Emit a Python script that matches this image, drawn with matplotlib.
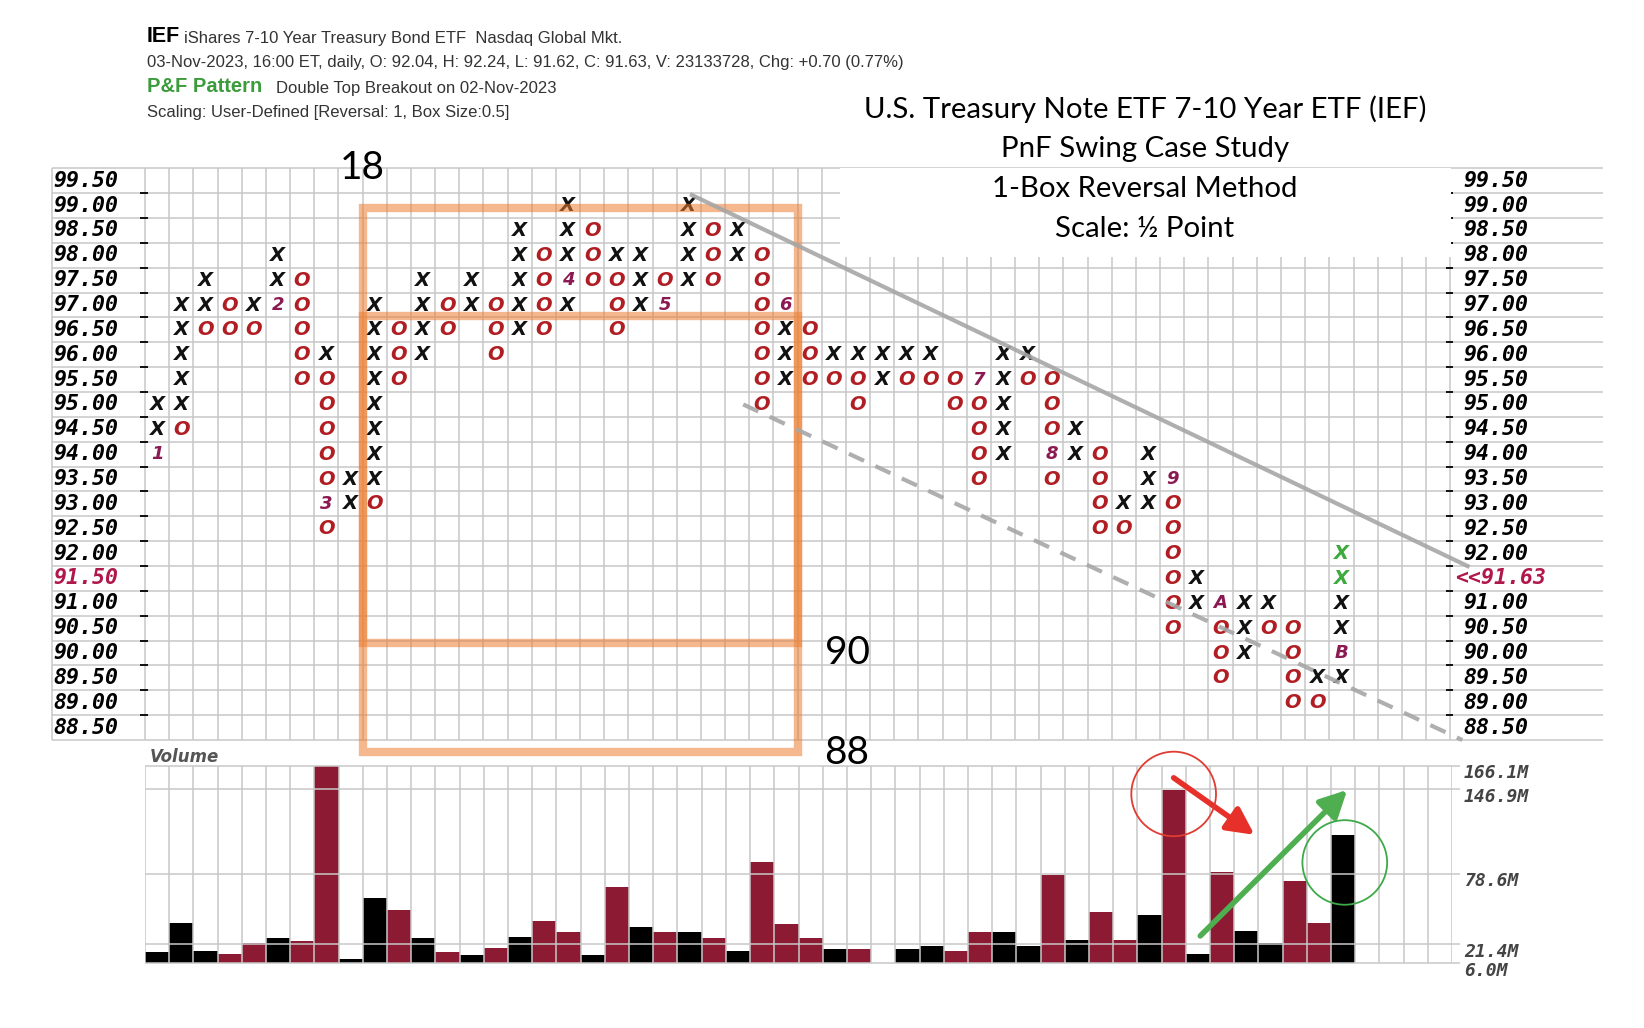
import numpy as np
import matplotlib
matplotlib.use("Agg")
import matplotlib.pyplot as plt
from matplotlib.patches import Rectangle, Ellipse

# point & figure columns (box 0.5, 1-box reversal), boxes listed bottom -> top
# X / O = boxes, g = green X (current), 1-9, A, B = month markers
col_start = [94.0, 94.5, 96.5, 96.5, 96.5, 97.0, 95.5, 92.5, 93.0, 93.0,
             95.5, 96.0, 96.5, 97.0, 96.0, 96.5, 96.5, 97.0, 97.5, 96.5,
             97.0, 97.0, 97.5, 97.5, 98.0, 95.0, 95.5, 95.5, 95.5, 95.0,
             95.5, 95.5, 95.5, 95.0, 93.5, 94.0, 95.5, 93.5, 94.0, 92.5,
             92.5, 93.0, 90.5, 91.0, 89.5, 90.0, 90.5, 89.0, 89.0, 89.5]
col_boxes = ["1XX", "OXXXXX", "OXX", "OO", "OX", "2XX", "OOOOO", "O3OOOOOX", "XX", "OXXXXXXXX",
             "OOO", "XXXX", "OO", "XX", "OOO", "XXXXX", "OOOO", "X4XXX", "OOO", "OOOX",
             "XXX", "5O", "XXXX", "OOO", "XX", "OOOOOOO", "XXX6", "OOO", "OX", "OOX",
             "XX", "OX", "OX", "OO", "OOOO7", "XXXXX", "OX", "O8OOO", "XX", "OOOO",
             "OX", "XXX", "OOOOOO9", "XX", "OOOA", "XXX", "OX", "OOOO", "OX", "XBXXgg"]
n_cols = 54
price_rows = np.arange(88.5, 99.51, 0.5)
last_price = 91.63

# volume per column (millions), k = up column (black), r = down column (maroon)
volume_m = [14.9, 38.8, 16.2, 13.5, 22.7, 26.2, 23.8, 166.1, 9.8, 58.7,
            48.8, 26.2, 14.9, 12.5, 18.6, 27.5, 40.2, 31.3, 12.5, 67.6,
            35.1, 31.3, 31.3, 26.2, 16.2, 87.8, 37.8, 26.2, 17.3, 17.3,
            0.0, 17.3, 20.0, 16.2, 31.3, 31.3, 20.0, 77.9, 24.8, 47.4,
            24.8, 45.0, 146.7, 13.5, 80.0, 32.4, 22.7, 72.5, 38.8, 110.1]
volume_side = "kkkrrkrrkkrkrkrkrrkrkrkrkrrrkrkkkrrkkrkrrkrkrkkrrk"
volume_ticks = [6.0, 21.4, 78.6, 146.9, 166.1]

GRID = "#c8c8c8"
OCOL = "#b01e23"
MCOL = "#8b1a52"
XCOL = "#111111"
GCOL = "#3daa3d"
RED = "#b0174b"

W, H = 1644, 1028
fig = plt.figure(figsize=(W / 100, H / 100), dpi=100)


def box(l, t, r, b):
    return [l / W, 1 - b / H, (r - l) / W, (b - t) / H]


CW = 24.17
GX0 = 145


def cx(px):
    return (px - GX0) / CW - 0.5


# ---------------- P&F panel ----------------
ax = fig.add_axes(box(52, 168.3, 1603, 740))
xl, xr = cx(52), cx(1603)
ax.set_xlim(xl, xr)
ax.set_ylim(88.25, 99.75)
ax.axis("off")

edges_y = np.arange(88.25, 99.76, 0.5)
ax.hlines(edges_y, xl, xr, color=GRID, lw=1.1, zorder=1, clip_on=False)
ax.vlines(np.arange(-0.5, n_cols, 1.0), 88.25, 99.75, color=GRID, lw=1.1, zorder=1)
ax.vlines(xl, 88.25, 99.75, color=GRID, lw=1.1, zorder=1, clip_on=False)
ax.hlines(edges_y[1:-1], cx(140), cx(148), color="black", lw=1.3, zorder=1)
ax.hlines(edges_y[1:-1], cx(1446), cx(1453), color="black", lw=1.3, zorder=1)
# blank area behind the title
ax.add_patch(Rectangle((cx(840), 97.97), cx(1451) - cx(840), 2.0,
                       fc="white", ec="none", zorder=2))

for i, (start, boxes) in enumerate(zip(col_start, col_boxes)):
    for j, ch in enumerate(boxes):
        p = start + 0.5 * j
        if ch == "X":
            ax.text(i, p, "X", color=XCOL, fontsize=14, ha="center", va="center",
                    weight="bold", style="italic", zorder=4)
        elif ch == "g":
            ax.text(i, p, "X", color=GCOL, fontsize=14, ha="center", va="center",
                    weight="bold", style="italic", zorder=4)
        elif ch == "O":
            ax.text(i, p, "O", color=OCOL, fontsize=14, ha="center", va="center",
                    weight="bold", style="italic", zorder=4)
        else:
            ax.text(i, p, ch, color=MCOL, fontsize=13, ha="center", va="center",
                    weight="bold", style="italic", zorder=4)

for p in price_rows:
    col = RED if abs(p - 91.5) < 1e-6 else "black"
    ax.text(cx(53), p, f"{p:.2f}", ha="left", va="center", family="DejaVu Sans Mono",
            weight="bold", style="italic", fontsize=15.5, color=col, zorder=3)
    if abs(p - 91.5) < 1e-6:
        ax.text(cx(1455), p, f"<<{last_price:.2f}", ha="left", va="center",
                family="DejaVu Sans Mono", weight="bold", style="italic",
                fontsize=15.5, color=RED, zorder=3, clip_on=False)
    else:
        ax.text(cx(1463), p, f"{p:.2f}", ha="left", va="center", family="DejaVu Sans Mono",
                weight="bold", style="italic", fontsize=15.5, color="black", zorder=3)

# orange boxes
ax.add_patch(Rectangle((8.5, 88.0), 18.0, 98.95 - 88.0, fill=False, ec="#ed7d31",
                       lw=6, alpha=0.55, zorder=5, clip_on=False))
ax.add_patch(Rectangle((8.5, 90.2), 18.0, 96.77 - 90.2, fill=False, ec="#ed7d31",
                       lw=6, alpha=0.55, zorder=5, clip_on=False))

# trend lines
ax.plot([22.05, 54.3], [99.23, 91.73], color="#a6a6a6", lw=3, alpha=0.9,
        solid_capstyle="butt", zorder=6, clip_on=False)
ax.plot([24.25, 54.0], [95.0, 88.25], color="#a6a6a6", lw=3, alpha=0.9,
        dashes=(4, 3), zorder=6, clip_on=False)

# ---------------- volume panel ----------------
vax = fig.add_axes(box(145, 765.7, 1452, 963.3))
vax.set_xlim(-0.5, n_cols - 0.5)
vax.set_ylim(6.0, 166.1)
vax.axis("off")
vcols = ["black" if s == "k" else "#8c1a32" for s in volume_side]
vax.bar(np.arange(len(volume_m)), volume_m, width=1.0, color=vcols, zorder=1)
vax.vlines(np.arange(-0.5, n_cols, 1.0), 6.0, 166.1, color=GRID, lw=1.1, zorder=2)
vax.hlines(volume_ticks, -0.5, n_cols - 0.5 + 0.35, color=GRID, lw=1.1, zorder=2,
           clip_on=False)
for v in volume_ticks:
    vax.text(n_cols - 0.5 + 0.5, v + 1.0, f"{v:.1f}M", ha="left", va="top",
             family="DejaVu Sans Mono", weight="bold", style="italic",
             fontsize=13, color="#444444", clip_on=False)

vax.add_patch(Ellipse((42.0, 143.2), 3.5, 68.5, fill=False, ec="#e03c31", lw=1.3,
                      zorder=5, clip_on=False))
vax.add_patch(Ellipse((49.07, 87.7), 3.5, 68.5, fill=False, ec="#3daa4a", lw=1.3,
                      zorder=5, clip_on=False))
vax.annotate("", xy=(45.34, 110.1), xytext=(42.0, 156.3), annotation_clip=False,
             arrowprops=dict(arrowstyle="-|>,head_length=0.65,head_width=0.33",
                             color="#e8302a", lw=4, mutation_scale=25,
                             shrinkA=0, shrinkB=0))
vax.annotate("", xy=(49.17, 146.5), xytext=(43.1, 28.2), annotation_clip=False,
             arrowprops=dict(arrowstyle="-|>,head_length=0.65,head_width=0.33",
                             color="#4eae50", lw=4, mutation_scale=25,
                             shrinkA=0, shrinkB=0))

fig.text(150 / W, 1 - 757 / H, "Volume", ha="left", va="center", fontsize=12,
         weight="bold", style="italic", color="#555555")

# ---------------- header / notes ----------------
hdr = ["Liberation Sans Narrow", "Liberation Sans", "DejaVu Sans"]
fig.text(147 / W, 1 - 37 / H, "IEF", family=hdr, weight="bold", fontsize=15.5,
         ha="left", va="center", color="black")
fig.text(184 / W, 1 - 38 / H, "iShares 7-10 Year Treasury Bond ETF  Nasdaq Global Mkt.",
         family=hdr, fontsize=12, ha="left", va="center", color="#333333")
fig.text(147 / W, 1 - 62.5 / H,
         "03-Nov-2023, 16:00 ET, daily, O: 92.04, H: 92.24, L: 91.62, C: 91.63, "
         "V: 23133728, Chg: +0.70 (0.77%)",
         family=hdr, fontsize=12, ha="left", va="center", color="#333333")
fig.text(147 / W, 1 - 87 / H, "P&F Pattern", family=hdr, weight="bold", fontsize=14.5,
         ha="left", va="center", color="#3c9c3c")
fig.text(275.6 / W, 1 - 88 / H, "Double Top Breakout on 02-Nov-2023", family=hdr,
         fontsize=12, ha="left", va="center", color="#333333")
fig.text(147 / W, 1 - 113 / H, "Scaling: User-Defined [Reversal: 1, Box Size:0.5]",
         family=hdr, fontsize=12, ha="left", va="center", color="#333333")

title_lines = ["U.S. Treasury Note ETF 7-10 Year ETF (IEF)", "PnF Swing Case Study",
               "1-Box Reversal Method", "Scale: \u00bd Point"]
for k, line in enumerate(title_lines):
    fig.text(1145 / W, 1 - (109 + 40 * k) / H, line, family=["Lato", "DejaVu Sans"],
             fontsize=21.2, ha="center", va="center", color="black")

for lab, (px, py) in zip(["18", "90", "88"], [(362, 168), (847, 653), (847, 753)]):
    fig.text(px / W, 1 - py / H, lab, family=["Lato", "DejaVu Sans"], fontsize=28,
             ha="center", va="center", color="black")

fig.savefig("out.png", dpi=100, facecolor="white")
